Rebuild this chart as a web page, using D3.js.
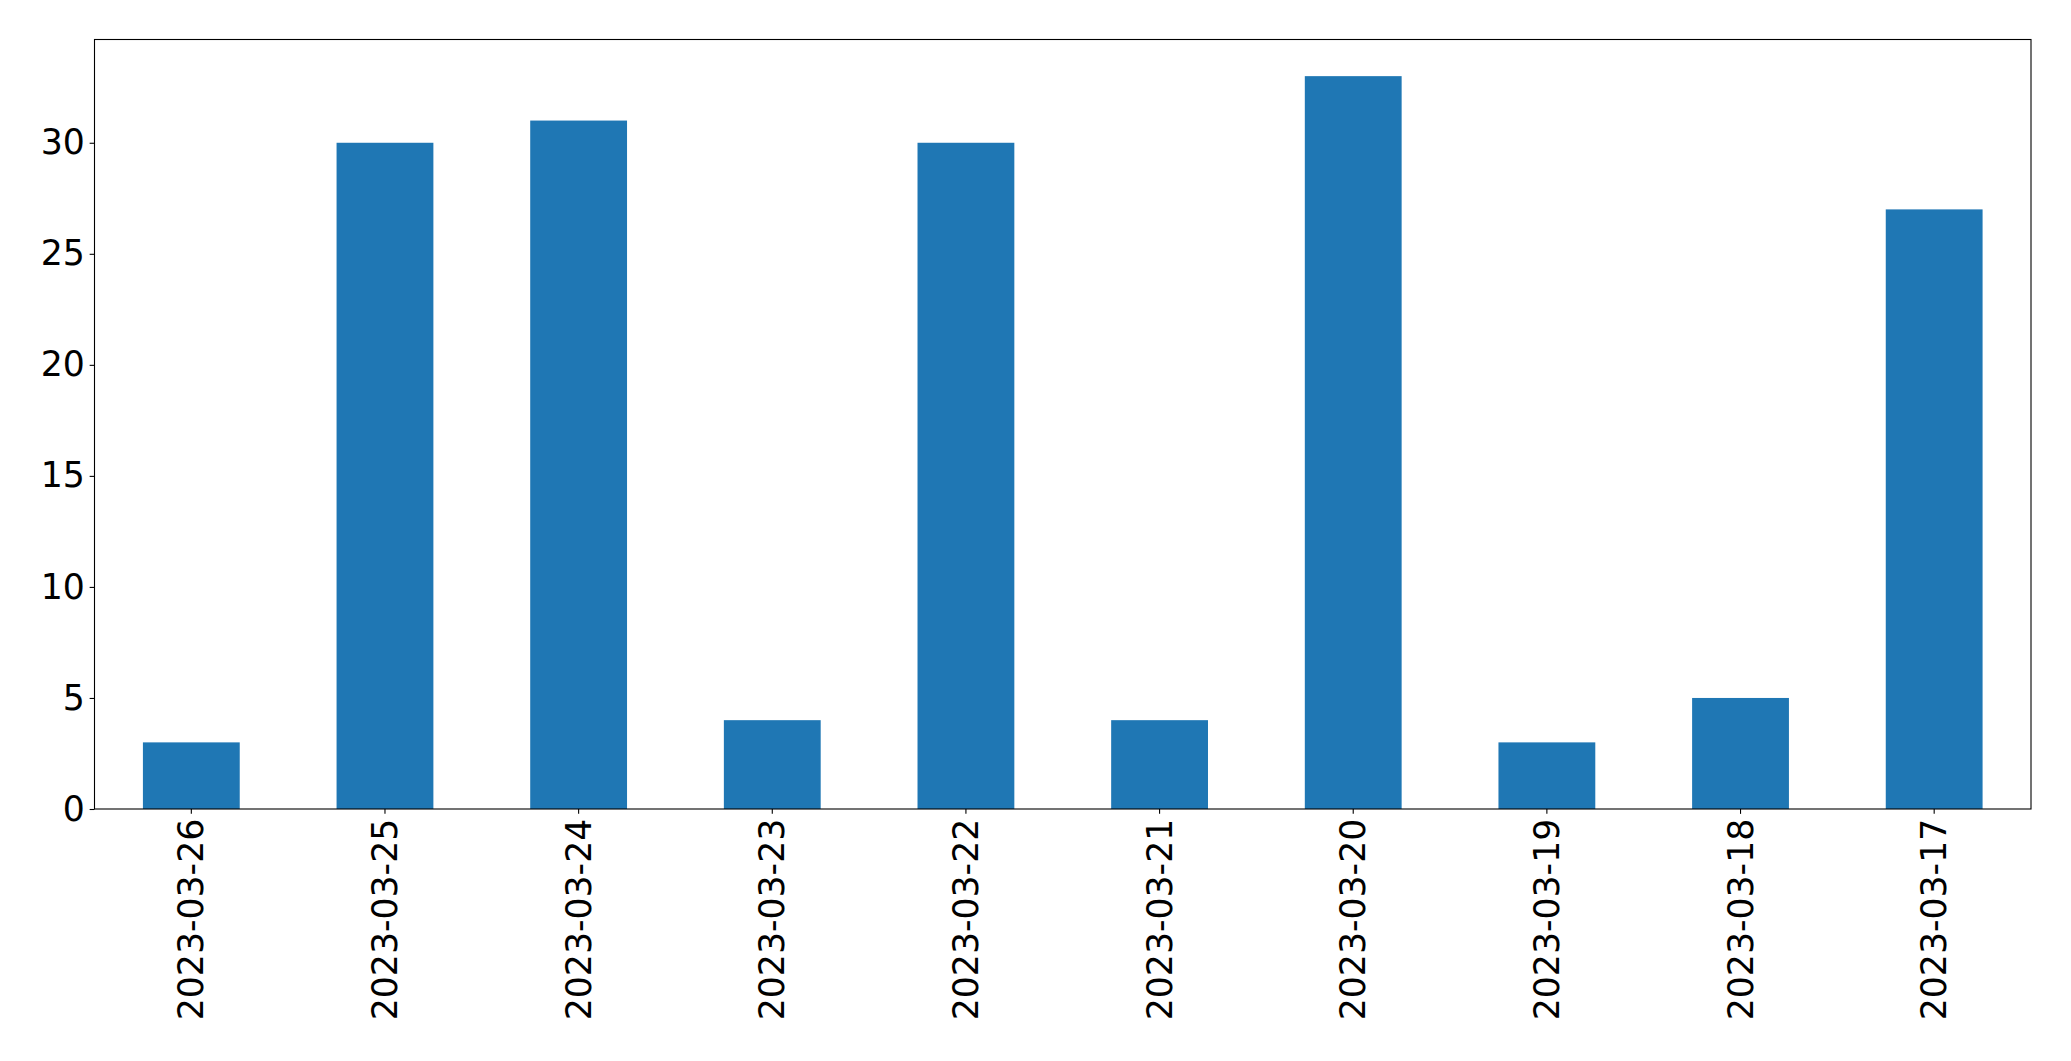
<!DOCTYPE html>
<html>
<head>
<meta charset="utf-8">
<script src="https://cdn.jsdelivr.net/npm/d3@7"></script>
<style>
  html, body { margin: 0; padding: 0; background: #fff; }
  svg { display: block; }
  text { font-family: "DejaVu Sans", sans-serif; fill: #000; }
</style>
</head>
<body>
<svg id="chart" width="2071" height="1061"></svg>
<script>
const categories = ["2023-03-26","2023-03-25","2023-03-24","2023-03-23","2023-03-22","2023-03-21","2023-03-20","2023-03-19","2023-03-18","2023-03-17"];
const values = [3, 30, 31, 4, 30, 4, 33, 3, 5, 27];
const yTicks = [0, 5, 10, 15, 20, 25, 30];

const W = 2071, H = 1061;
const margin = { left: 94.5, right: W - 2031, top: 39.5, bottom: H - 809 };
const fontPx = 34.7;
const tickLen = 4.86, tickPad = 4.86;

const svg = d3.select("#chart");
const x = d3.scaleBand()
  .domain(categories)
  .range([margin.left, W - margin.right])
  .paddingInner(0.5)
  .paddingOuter(0.25);
const yMax = d3.max(values) * 1.05;
const y = d3.scaleLinear().domain([0, yMax]).range([H - margin.bottom, margin.top]);

// bars
svg.append("g").selectAll("rect")
  .data(values)
  .join("rect")
  .attr("x", (d, i) => x(categories[i]))
  .attr("width", x.bandwidth())
  .attr("y", d => y(d))
  .attr("height", d => y(0) - y(d))
  .attr("fill", "#1f77b4");

// y axis
const yAxis = svg.append("g")
  .attr("transform", `translate(${margin.left},0)`)
  .call(d3.axisLeft(y).tickValues(yTicks).tickFormat(d3.format("d")).tickSize(tickLen).tickPadding(tickPad));
yAxis.select(".domain").remove();
yAxis.selectAll("line").attr("stroke", "#000").attr("stroke-width", 1.1);
yAxis.selectAll("text").style("font-size", fontPx + "px").style("font-family", "DejaVu Sans").attr("fill", "#000");

// x axis
const xAxis = svg.append("g")
  .attr("transform", `translate(0,${H - margin.bottom})`)
  .call(d3.axisBottom(x).tickSize(tickLen).tickPadding(tickPad));
xAxis.select(".domain").remove();
xAxis.selectAll("line").attr("stroke", "#000").attr("stroke-width", 1.1);
xAxis.selectAll("text")
  .style("font-size", fontPx + "px")
  .style("font-family", "DejaVu Sans")
  .attr("fill", "#000")
  .attr("text-anchor", "end")
  .attr("dy", null)
  .attr("dominant-baseline", "central")
  .attr("y", 0)
  .attr("x", 0)
  .attr("transform", `translate(0,${tickLen + tickPad}) rotate(-90)`);

// frame
svg.append("rect")
  .attr("x", margin.left)
  .attr("y", margin.top)
  .attr("width", W - margin.right - margin.left)
  .attr("height", H - margin.bottom - margin.top)
  .attr("fill", "none")
  .attr("stroke", "#000")
  .attr("stroke-width", 1.1);
</script>
</body>
</html>
